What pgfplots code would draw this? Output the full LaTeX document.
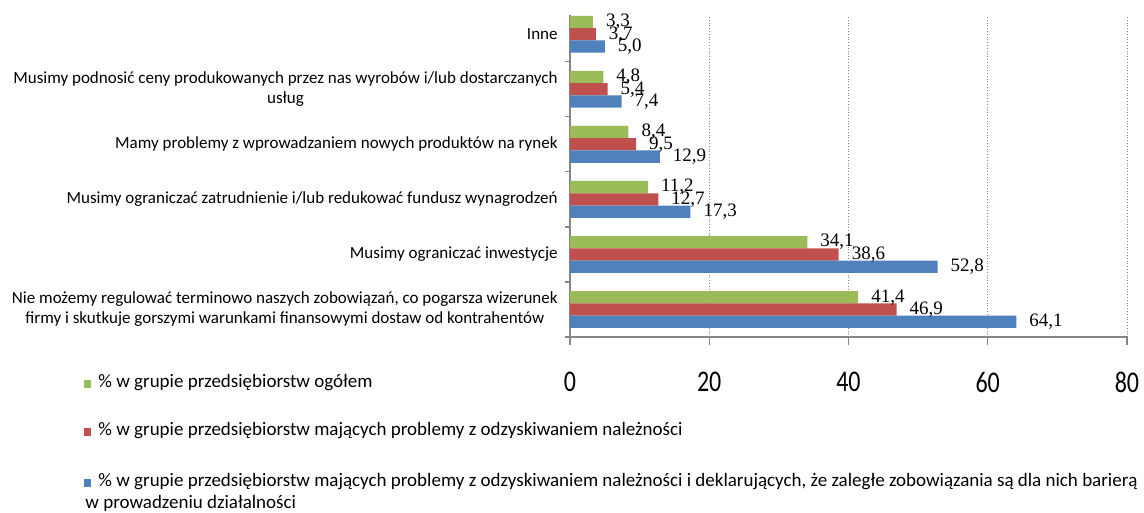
\documentclass[border=0pt]{standalone}
\usepackage{fontspec}
\setmainfont{Carlito}
\newfontfamily\tickfont{Carlito}[FakeStretch=0.8]
\newfontfamily\numfont{Liberation Serif}
\usepackage{pgfplots}
\pgfplotsset{compat=1.18}

\definecolor{cgreen}{RGB}{155,187,89}
\definecolor{cred}{RGB}{192,80,77}
\definecolor{cblue}{RGB}{79,129,189}
\definecolor{caxis}{RGB}{134,134,134}

\begin{document}
\begin{tikzpicture}
\useasboundingbox (-285pt,-88pt) rectangle (287pt,168.5pt);
\begin{axis}[%
at={(0,0)},
anchor=south west,
width=278.5pt,
height=161pt,
scale only axis,
clip=false,
xbar,
bar width=0.223,
xmin=0,
xmax=80,
ymin=-0.5,
ymax=5.35,
axis x line*=bottom,
axis y line*=left,
axis line style={caxis, line width=0.6pt},
xtick={0,20,...,80},
ytick={0,...,5},
minor ytick={-0.5,0.5,...,4.5},
yticklabels={%
{Nie możemy regulować terminowo naszych zobowiązań, co pogarsza wizerunek\\firmy i skutkuje gorszymi warunkami finansowymi dostaw od kontrahentów},
{Musimy ograniczać inwestycje},
{Musimy ograniczać zatrudnienie i/lub redukować fundusz wynagrodzeń},
{Mamy problemy z wprowadzaniem nowych produktów na rynek},
{Musimy podnosić ceny produkowanych przez nas wyrobów i/lub dostarczanych\\usług},
{Inne}},
tick align=outside,
tick style={caxis, line width=0.6pt},
major tick length=4pt,
minor tick length=2.5pt,
major y tick style={draw=none},
xmajorgrids,
major x grid style={densely dotted, caxis},
/pgf/number format/assume math mode=true,
xticklabel style={font=\tickfont\fontsize{15}{15}\selectfont, anchor=center, yshift=-18.5pt},
yticklabel style={font=\fontsize{8.5}{10}\selectfont, align=center, anchor=east, inner sep=0pt, xshift=-2pt},
point meta=x,
nodes near coords={\pgfmathprintnumber[fixed, fixed zerofill, precision=1, use comma]{\pgfplotspointmeta}},
nodes near coords style={font=\numfont\fontsize{9.5}{10}\selectfont, anchor=west, xshift=3pt},
legend image code/.code={\fill[#1] (0pt,-0.3pt) rectangle (3.5pt,3.7pt);},
legend style={at={(axis description cs:-0.8725,-0.1087)}, anchor=north west, draw=none, fill=none,
  inner sep=0pt, font=\fontsize{9.5}{11}\selectfont, row sep=14pt,
  cells={anchor=base west}, nodes={inner sep=1pt},
  /tikz/every odd column/.append style={column sep=2.5pt}},
]
\addplot[fill=cgreen, draw=none, bar shift=0.223] coordinates {
(41.4,0) (34.1,1) (11.2,2) (8.4,3) (4.8,4) (3.3,5)
};
\addlegendentry{\% w grupie przedsiębiorstw ogółem}

\addplot[fill=cred, draw=none, bar shift=0] coordinates {
(46.9,0) (38.6,1) (12.7,2) (9.5,3) (5.4,4) (3.7,5)
};
\addlegendentry{\% w grupie przedsiębiorstw mających problemy z odzyskiwaniem należności}

\addplot[fill=cblue, draw=none, bar shift=-0.223] coordinates {
(64.1,0) (52.8,1) (17.3,2) (12.9,3) (7.4,4) (5.0,5)
};
\addlegendentry{\begin{tabular}[t]{@{}l@{}}\% w grupie przedsiębiorstw mających problemy z odzyskiwaniem należności i deklarujących, że zaległe zobowiązania są dla nich barierą\\\hspace*{-6.5pt}w prowadzeniu działalności\end{tabular}}

\end{axis}
\end{tikzpicture}
\end{document}
